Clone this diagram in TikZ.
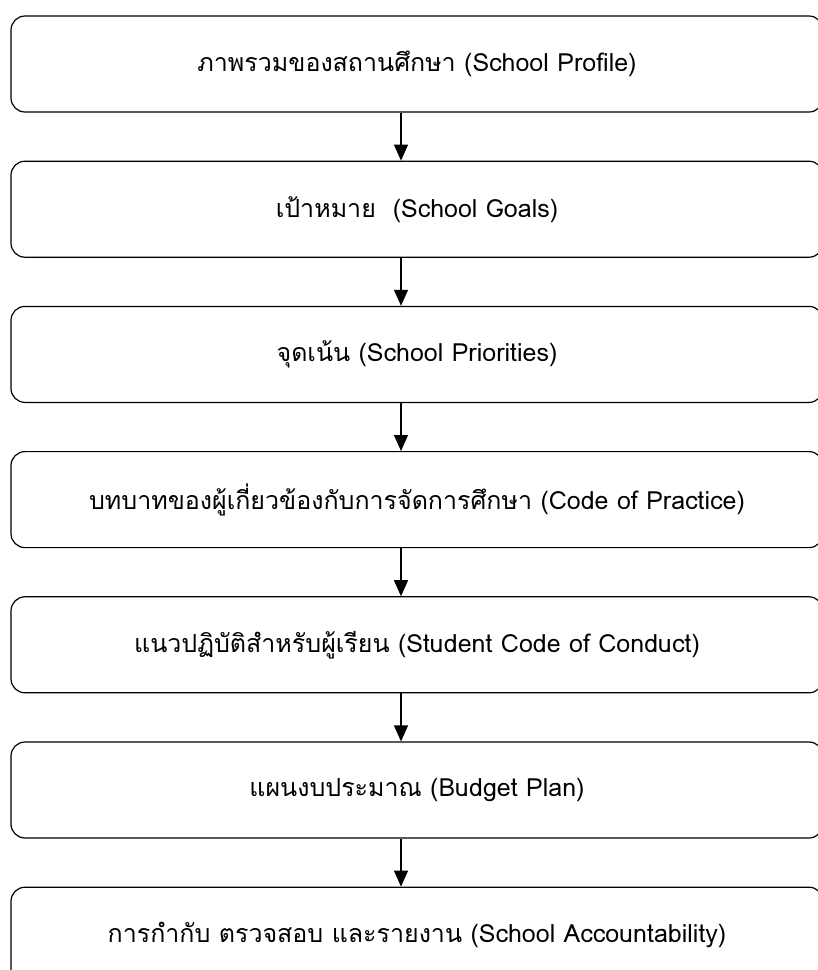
\documentclass[tikz,border=0pt]{standalone}
\usepackage{fontspec}
\newfontfamily\thaifont[Script=Thai]{Loma}
\usetikzlibrary{arrows.meta,positioning}

\begin{document}
\begin{tikzpicture}[x=1pt, y=1pt,
            node distance=48pt,
            stage/.style={draw, line width=1.2pt, rounded corners=14pt,
                minimum width=812pt, minimum height=96pt,
                font=\thaifont\fontsize{25}{30}\selectfont}, % one box per step of the plan
            flow/.style={line width=1.2pt, -{Triangle[width=14pt,length=16pt]}}, % the downward arrows
        ]
        \useasboundingbox (0,0) rectangle (818,-970);

        \node (profile)    [stage] at (417,-64)         {ภาพรวมของสถานศึกษา (School Profile)};
        \node (goals)      [stage, below=of profile]    {เป้าหมาย~ (School Goals)};
        \node (priorities) [stage, below=of goals]      {จุดเน้น (School Priorities)};
        \node (practice)   [stage, below=of priorities] {บทบาทของผู้เกี่ยวข้องกับการจัดการศึกษา (Code of Practice)};
        \node (conduct)    [stage, below=of practice]   {แนวปฏิบัติสำหรับผู้เรียน (Student Code of Conduct)};
        \node (budget)     [stage, below=of conduct]    {แผนงบประมาณ (Budget Plan)};
        \node (account)    [stage, below=of budget]     {การกำกับ ตรวจสอบ และรายงาน (School Accountability)};

        \foreach \a/\b in {profile/goals, goals/priorities, priorities/practice,
                practice/conduct, conduct/budget, budget/account}
            \draw[flow] ([xshift=-16pt]\a.south) -- ([xshift=-16pt]\b.north);
    \end{tikzpicture}
\end{document}
